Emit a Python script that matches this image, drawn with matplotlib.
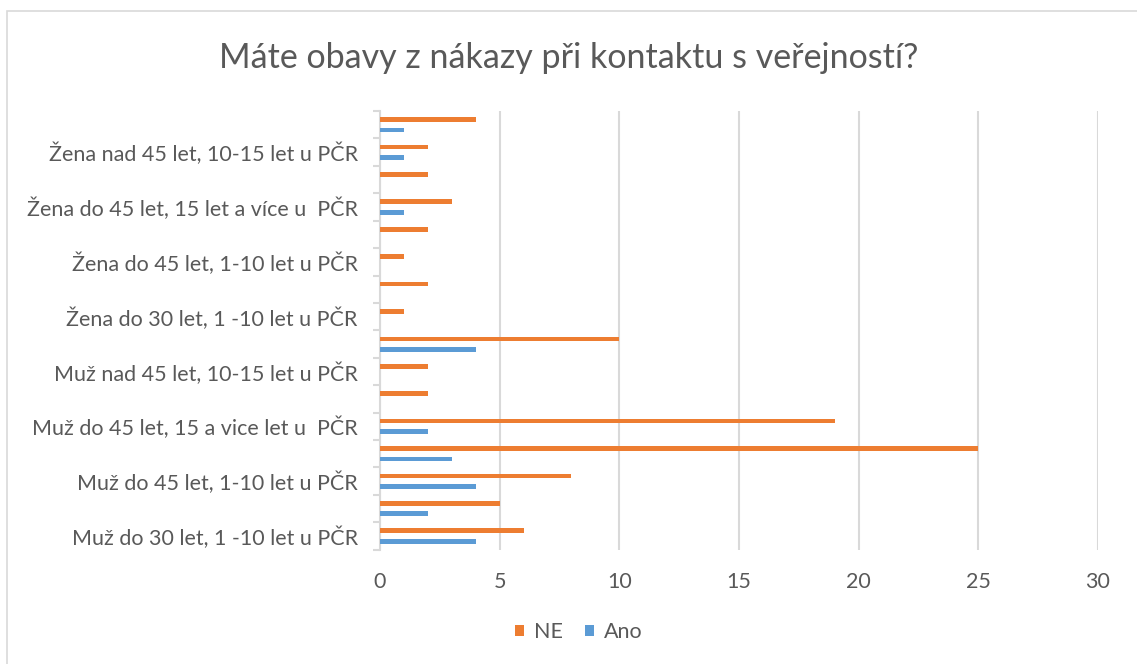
import numpy as np
import matplotlib.pyplot as plt
from matplotlib.patches import Rectangle

# categories bottom -> top, only every other one is labelled in the original
categories = ["Muž do 30 let, 1 -10 let u PČR", "",
              "Muž do 45 let, 1-10 let u PČR", "",
              "Muž do 45 let, 15 a vice let u  PČR", "",
              "Muž nad 45 let, 10-15 let u PČR", "",
              "Žena do 30 let, 1 -10 let u PČR", "",
              "Žena do 45 let, 1-10 let u PČR", "",
              "Žena do 45 let, 15 let a více u  PČR", "",
              "Žena nad 45 let, 10-15 let u PČR", ""]
ne_vals = [6, 5, 8, 25, 19, 2, 2, 10, 1, 2, 1, 2, 3, 2, 2, 4]
ano_vals = [4, 2, 4, 3, 2, 0, 0, 4, 0, 0, 0, 0, 1, 0, 1, 1]
x_ticks = [0, 5, 10, 15, 20, 25, 30]

title = "Máte obavy z nákazy při kontaktu s veřejností?"
orange = "#ED7D31"
blue = "#5B9BD5"
grey_txt = "#595959"
grid_col = "#D9D9D9"

plt.rcParams['font.family'] = ['Lato', 'DejaVu Sans']

fig = plt.figure(figsize=(11.37, 6.64), dpi=100)
ax = fig.add_axes([380/1137, 1 - 549.7/664, (1098-380)/1137, (549.7-111)/664])

y = np.arange(len(categories))
h = 0.17
ax.barh(y + 0.19, ne_vals, h, color=orange, label="NE", zorder=3)
ax.barh(y - 0.19, ano_vals, h, color=blue, label="Ano", zorder=3)

ax.set_xlim(0, 30)
ax.set_ylim(-0.5, len(categories) - 0.5)
ax.set_xticks(x_ticks)
ax.set_xticklabels([str(t) for t in x_ticks], color=grey_txt, fontsize=15.5)
ax.set_yticks(y)
ax.set_yticklabels(categories, color=grey_txt, fontsize=15.5)
ax.tick_params(axis='y', length=0, pad=16)
ax.tick_params(axis='x', length=0, pad=16)
# tick marks between categories
ax.set_yticks(np.arange(-0.5, len(categories), 1), minor=True)
ax.tick_params(axis='y', which='minor', length=5, color=grid_col, width=1.5)

ax.grid(axis='x', color=grid_col, linewidth=1.5, zorder=0)
for s in ['top', 'right', 'bottom']:
    ax.spines[s].set_visible(False)
ax.spines['left'].set_color(grid_col)
ax.spines['left'].set_linewidth(1.5)

fig.text(569/1137, 1 - 58/664, title, ha='center', va='center',
         fontsize=24.5, color=grey_txt)

leg = fig.legend(loc='center', bbox_to_anchor=(579/1137, 1 - 632/664), ncol=2,
                 frameon=False, fontsize=15.5, handlelength=0.4, handleheight=0.45,
                 handletextpad=0.5, columnspacing=1.0)
for t in leg.get_texts():
    t.set_color(grey_txt)

# chart area border (right/bottom edges fall outside the picture)
fig.patches.append(Rectangle((7/1137, -0.05), 1.1, 1 - 11/664 + 0.05,
                             transform=fig.transFigure, fill=False,
                             edgecolor=grid_col, linewidth=1.2))

fig.savefig("out.png", dpi=100)
